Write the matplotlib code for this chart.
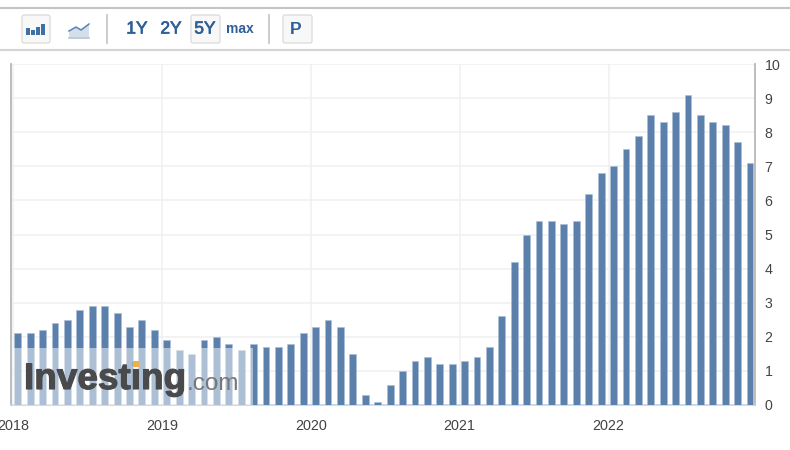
import numpy as np
import matplotlib
matplotlib.use('Agg')
import matplotlib.pyplot as plt
import matplotlib.patheffects as pe
from matplotlib.patches import FancyBboxPatch, Rectangle, Polygon

plt.rcParams['font.family'] = ['Liberation Sans', 'DejaVu Sans']

W, H = 790, 450

#monthly values, 60 bars
vals_2018 = [2.1, 2.1, 2.2, 2.4, 2.5, 2.8, 2.9, 2.9, 2.7, 2.3, 2.5, 2.2]
vals_2019 = [1.9, 1.6, 1.5, 1.9, 2.0, 1.8, 1.6, 1.8, 1.7, 1.7, 1.8, 2.1]
vals_2020 = [2.3, 2.5, 2.3, 1.5, 0.3, 0.1, 0.6, 1.0, 1.3, 1.4, 1.2, 1.2]
vals_2021 = [1.3, 1.4, 1.7, 2.6, 4.2, 5.0, 5.4, 5.4, 5.3, 5.4, 6.2, 6.8]
vals_2022 = [7.0, 7.5, 7.9, 8.5, 8.3, 8.6, 9.1, 8.5, 8.3, 8.2, 7.7, 7.1]
years = ['2018', '2019', '2020', '2021', '2022']
y_ticks = [0, 1, 2, 3, 4, 5, 6, 7, 8, 9, 10]

values = vals_2018 + vals_2019 + vals_2020 + vals_2021 + vals_2022
months = np.arange(len(values))

fig = plt.figure(figsize=(W/100, H/100), dpi=100, facecolor='white')

#main chart, pixel box 11..755 / 64..405
ax = fig.add_axes([11/W, 1-405/H, 744/W, 341/H])
ax.bar(months, values, width=0.55, color='#5a80ab', edgecolor='#a9c0d8', linewidth=0.4, zorder=3)
ax.set_xlim(-0.548, 59.4)
ax.set_ylim(0, 10)

#year ticks sit a little left of the first bar of each year
ax.set_xticks([12*k - 0.39 for k in range(len(years))])
ax.set_xticklabels(years, color='#444444', fontsize=10.4)
ax.set_yticks(y_ticks)
ax.set_yticklabels([str(v) for v in y_ticks], color='#444444', fontsize=10.2)
for t in ax.get_yticklabels():
    t.set_y(t.get_position()[1])
ax.yaxis.tick_right()
ax.tick_params(axis='both', length=0)
ax.tick_params(axis='x', pad=10)
ax.tick_params(axis='y', pad=7)
ax.grid(True, color='#f0f0f0', linewidth=1.1, zorder=0)
ax.set_axisbelow(True)
ax.spines['top'].set_visible(False)
ax.spines['left'].set_color('#b8b8b8')
ax.spines['right'].set_color('#b8b8b8')
ax.spines['left'].set_linewidth(1.3)
ax.spines['right'].set_linewidth(1.3)
ax.spines['bottom'].set_color('#c5d3e2')
ax.spines['bottom'].set_linewidth(1.2)

#overlay in pixel coordinates: toolbar and watermark
ov = fig.add_axes([0, 0, 1, 1], facecolor='none')
ov.set_xlim(0, W)
ov.set_ylim(H, 0)
ov.axis('off')

ov.plot([0, W], [8, 8], color='#c4c4c4', lw=1.5)
ov.plot([0, W], [50, 50], color='#d4d4d4', lw=1.5)
for x in [107, 269]:
    ov.plot([x, x], [15, 43], color='#c8c8c8', lw=1.3)

def button(x0, x1):
    ov.add_patch(FancyBboxPatch((x0+2, 17), x1-x0-4, 24, boxstyle='round,pad=2',
                                fc='#f8f8f8', ec='#dddddd', lw=1))

button(22, 50)
button(191, 220)
button(283, 312)

#bar icon
for x, top in zip([26, 31, 36, 41], [28, 30, 27, 24]):
    ov.add_patch(Rectangle((x, top), 3.5, 35-top, fc='#3f6fa3', ec='none'))
#line icon
ov.add_patch(Polygon([(69, 37), (69, 31), (76, 27), (81, 30), (89, 24), (89, 37)], fc='#d5dfeb', ec='none'))
ov.plot([69, 76, 81, 89], [31, 27, 30, 24], color='#5a85b3', lw=1.1)
ov.plot([69, 89], [38, 38], color='#a8bdd3', lw=1.1)

tool_blue = '#2f5f98'
for x, s, fs, fw in [(137, '1Y', 12.5, 'normal'), (171, '2Y', 12.5, 'normal'), (205, '5Y', 12.5, 'normal'),
                     (240, 'max', 10, 'bold'), (296, 'P', 12.5, 'bold')]:
    t = ov.text(x, 29, s, color=tool_blue, fontsize=fs, fontweight=fw, ha='center', va='center')
    if fw == 'normal':
        t.set_path_effects([pe.withStroke(linewidth=0.5, foreground=tool_blue)])

#watermark
ov.add_patch(Rectangle((13, 348), 240, 57, fc='white', ec='none', alpha=0.5))
t = ov.text(24, 389, 'Investing', color='#4a4a4c', fontsize=26.6, fontweight='bold', ha='left', va='baseline')
t.set_path_effects([pe.withStroke(linewidth=0.8, foreground='#4a4a4c')])
ov.text(187, 390, '.com', color='#77777a', fontsize=17.5, ha='left', va='baseline')
ov.add_patch(Rectangle((133, 361), 6, 6, fc='#f0b048', ec='none', zorder=5))

fig.savefig('out.png', dpi=100)
